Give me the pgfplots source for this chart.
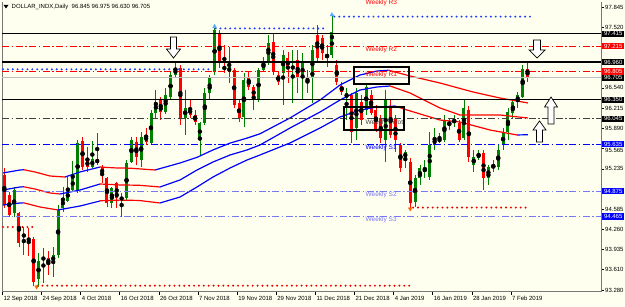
\documentclass[border=0pt]{standalone}
\usepackage{pgfplots}
\pgfplotsset{compat=1.18}
\usepackage{pgfplotstable}
\usepackage{fontspec}
\setmainfont{Liberation Sans}
\definecolor{bg}{RGB}{255,255,240}
\definecolor{cgreen}{RGB}{0,128,0}
\definecolor{cred}{RGB}{255,0,0}
\definecolor{mblue}{RGB}{0,0,255}
\definecolor{sblue}{RGB}{120,120,245}
\definecolor{pivotc}{RGB}{64,64,64}
\definecolor{dotblue}{RGB}{30,60,255}
\definecolor{dotred}{RGB}{230,0,0}
\definecolor{arrowblue}{RGB}{90,170,255}
\definecolor{framec}{RGB}{120,120,120}
\tikzset{wl/.style={anchor=north west, inner sep=0.5pt, font=\fontsize{6.5}{7}\selectfont},
  pb/.style={anchor=west, xshift=1pt, inner xsep=1.8pt, inner ysep=0.9pt, text height=4.4pt, text depth=0pt, text=white, font=\fontsize{6}{7}\selectfont}}

\pgfplotstableread{
i O H L C
2 94.522 94.942 94.458 94.893
4 94.135 94.296 93.845 94.184
7 93.458 93.877 93.329 93.748
8 93.764 93.958 93.393 93.813
10 93.732 93.974 93.490 93.845
11 93.845 94.651 93.796 94.571
12 94.603 94.942 94.538 94.764
13 94.716 95.103 94.700 94.893
14 94.893 95.361 94.861 95.103
15 94.893 95.700 94.845 95.651
18 95.264 95.684 95.248 95.393
22 94.684 94.942 94.603 94.926
24 94.748 94.845 94.458 94.764
25 94.764 95.377 94.732 95.329
26 95.345 95.748 95.329 95.700
28 95.377 95.829 95.264 95.748
30 95.651 96.184 95.619 96.135
31 96.135 96.506 96.055 96.313
33 96.151 96.539 96.119 96.426
34 96.393 96.797 96.345 96.748
35 96.748 96.958 96.716 96.861
37 96.055 96.506 95.780 96.216
40 95.700 95.990 95.458 95.974
41 95.974 96.539 95.942 96.458
42 96.458 96.748 96.345 96.700
43 96.797 97.510 96.748 97.474
46 96.797 97.200 96.619 96.877
49 96.071 96.781 95.909 96.668
52 96.345 96.861 96.313 96.829
53 96.829 97.039 96.797 96.958
54 96.958 97.393 96.910 97.264
57 96.781 97.151 96.264 97.071
59 96.861 97.151 96.297 96.877
61 96.700 97.103 96.345 96.958
63 96.700 97.232 96.297 97.151
66 97.039 97.232 96.877 97.071
67 97.071 97.700 97.022 97.442
70 96.377 96.539 96.022 96.458
72 95.893 96.539 95.700 96.458
74 96.184 96.619 96.103 96.555
78 95.700 96.506 95.345 96.345
82 95.409 95.538 95.248 95.506
84 94.700 95.135 94.619 95.087
85 95.087 95.297 94.974 95.248
86 95.184 95.377 95.087 95.248
87 95.103 95.829 95.055 95.619
88 95.619 95.893 95.538 95.732
89 95.684 95.813 95.651 95.716
90 95.700 96.103 95.668 96.022
91 95.942 96.055 95.861 95.990
92 95.990 96.103 95.909 96.022
94 95.732 96.345 95.700 96.216
96 95.297 95.538 95.184 95.426
97 95.409 95.538 95.377 95.490
99 95.087 95.297 94.974 95.264
100 95.248 95.377 95.184 95.297
101 95.264 95.619 95.216 95.538
102 95.619 95.893 95.538 95.813
103 95.829 96.216 95.700 96.151
104 96.135 96.345 96.055 96.313
105 96.313 96.474 96.216 96.426
106 96.393 96.910 96.377 96.845
}\bull

\pgfplotstableread{
i O H L C
0 95.135 95.248 94.603 94.651
1 94.813 94.861 94.458 94.490
3 94.522 94.538 93.974 94.038
5 94.103 94.280 93.829 94.087
6 94.103 94.135 93.350 93.409
9 93.796 93.909 93.522 93.700
16 95.684 95.748 95.216 95.264
17 95.377 95.587 95.184 95.264
19 95.393 95.813 95.297 95.329
20 95.264 95.297 95.006 95.135
21 95.087 95.103 94.619 94.684
23 95.006 95.022 94.603 94.764
27 95.668 95.748 95.297 95.426
29 95.780 95.893 95.619 95.668
32 96.345 96.393 96.022 96.151
36 96.861 96.910 95.942 96.055
38 96.216 96.345 96.055 96.103
39 96.103 96.184 95.942 95.990
44 97.426 97.474 96.861 96.958
45 96.877 97.232 96.781 96.845
47 96.829 96.861 96.216 96.264
48 96.297 96.345 95.990 96.055
50 96.700 96.797 96.506 96.555
51 96.555 96.587 96.184 96.377
55 97.281 97.426 96.748 96.797
56 96.748 96.797 96.587 96.635
58 97.022 97.119 96.619 96.861
60 96.990 97.151 96.458 96.700
62 96.716 96.829 96.458 96.619
64 97.393 97.555 96.958 97.022
65 97.345 97.393 96.990 97.103
68 96.910 96.990 96.587 96.635
69 96.571 96.635 96.426 96.474
71 96.426 96.458 95.651 95.829
73 96.313 96.426 95.942 96.022
75 96.426 96.506 96.103 96.135
76 96.184 96.264 95.829 95.861
77 96.055 96.103 95.651 95.732
79 96.232 96.345 95.732 95.780
80 96.055 96.103 95.506 95.700
81 95.619 95.651 95.184 95.248
83 95.345 95.409 94.610 94.684
93 95.974 96.022 95.668 95.700
95 96.184 96.248 95.345 95.426
98 95.490 95.538 94.893 95.087
107 96.845 96.975 96.630 96.705
}\bear

\begin{document}
\begin{tikzpicture}
\fill[bg] (0pt,0pt) rectangle (625pt,-307pt);
\useasboundingbox (0pt,0pt) rectangle (625pt,-307pt);
% title
\fill[black] (3.5pt,-5pt) -- (8.5pt,-5pt) -- (6pt,-8.5pt) -- cycle;
\node[anchor=west, inner sep=0pt, font=\fontsize{6}{7}\selectfont] at (11.5pt,-7pt) {DOLLAR\_INDX,Daily\ \ 96.845 96.975 96.630 96.705};
\begin{axis}[
  at={(2pt,-2pt)}, anchor=north west, scale only axis,
  width=599pt, height=290pt,
  xmin=-0.47, xmax=122.02, ymin=93.248, ymax=97.926,
  clip=false, axis line style={draw=none},
  tick align=outside, major tick length=3pt,
  xtick pos=left, ytick pos=right, yticklabel pos=right,
  xtick={-0.4,7.6,15.6,23.6,31.6,39.6,47.6,55.6,63.6,71.6,79.6,87.6,95.6,103.6},
  xticklabels={12 Sep 2018,24 Sep 2018,4 Oct 2018,16 Oct 2018,26 Oct 2018,7 Nov 2018,19 Nov 2018,29 Nov 2018,11 Dec 2018,21 Dec 2018,4 Jan 2019,16 Jan 2019,28 Jan 2019,7 Feb 2019},
  ytick={97.845,97.52,96.54,96.215,95.89,95.235,94.585,94.26,93.935,93.61,93.28},
  yticklabels={97.845,97.520,96.540,96.215,95.890,95.235,94.585,94.260,93.935,93.610,93.280},
  extra y ticks={95.565}, extra y tick labels={95.565},
  extra y tick style={yticklabel style={yshift=-2.2pt}},
  tick style={black, line width=0.5pt},
  tick label style={font=\fontsize{6}{7}\selectfont},
  xticklabel style={anchor=north west, inner sep=1pt},
  yticklabel style={anchor=west, inner sep=1pt},
]
% frame
\draw[framec, line width=1pt] (rel axis cs:0,1) -- (rel axis cs:0,0) -- (rel axis cs:1,0) -- (rel axis cs:1,1);

% candles: wicks
\addplot[only marks, mark=none, forget plot, error bars/.cd, y dir=both, y explicit, error mark=none,
  error bar style={line width=0.8pt, draw=cgreen}]
  table[x=i, y expr={(\thisrow{H}+\thisrow{L})/2}, y error expr={(\thisrow{H}-\thisrow{L})/2}] {\bull};
\addplot[only marks, mark=none, forget plot, error bars/.cd, y dir=both, y explicit, error mark=none,
  error bar style={line width=0.8pt, draw=cred}]
  table[x=i, y expr={(\thisrow{H}+\thisrow{L})/2}, y error expr={(\thisrow{H}-\thisrow{L})/2}] {\bear};
% candles: bodies
\addplot[only marks, mark=none, forget plot, error bars/.cd, y dir=both, y explicit, error mark=none,
  error bar style={line width=3pt, draw=cgreen}]
  table[x=i, y expr={(\thisrow{O}+\thisrow{C})/2}, y error expr={max(abs(\thisrow{C}-\thisrow{O})/2,0.008)}] {\bull};
\addplot[only marks, mark=none, forget plot, error bars/.cd, y dir=both, y explicit, error mark=none,
  error bar style={line width=3pt, draw=cred}]
  table[x=i, y expr={(\thisrow{O}+\thisrow{C})/2}, y error expr={max(abs(\thisrow{C}-\thisrow{O})/2,0.008)}] {\bear};

% moving average envelope (blue rising, red falling)
\pgfplotsset{ma/.style={line width=1.2pt, mark=none}}
% upper
\addplot[ma, mblue] coordinates {(-0.27,95.168) (3.21,95.216) (4.0,95.220)};
\addplot[ma, cred] coordinates {(4.0,95.220) (6.28,95.184) (9.35,95.119) (12.41,95.103)};
\addplot[ma, mblue] coordinates {(12.41,95.103) (15.48,95.184) (19.57,95.264)};
\addplot[ma, cred] coordinates {(19.57,95.264) (22.64,95.250) (25.71,95.245) (30.82,95.216)};
\addplot[ma, mblue] coordinates {(30.82,95.216) (35.93,95.329) (39.41,95.42) (42.68,95.54) (46.16,95.65) (49.63,95.73) (52.29,95.80) (58.42,96.055) (64.56,96.345) (68.65,96.587) (72.74,96.748) (76.22,96.813) (78.6,96.825)};
\addplot[ma, cred] coordinates {(78.6,96.825) (82.97,96.732) (89.11,96.619) (95.86,96.474) (101.37,96.377) (107.09,96.297)};
% middle
\addplot[ma, mblue] coordinates {(-0.27,94.893) (3.21,94.942) (4.0,94.945)};
\addplot[ma, cred] coordinates {(4.0,94.945) (6.28,94.909) (9.35,94.845) (11.39,94.829)};
\addplot[ma, mblue] coordinates {(11.39,94.829) (15.48,94.893) (19.57,94.990)};
\addplot[ma, cred] coordinates {(19.57,94.990) (23.66,94.975) (27.5,94.970) (31.84,94.942)};
\addplot[ma, mblue] coordinates {(31.84,94.942) (35.93,95.055) (39.41,95.216) (42.68,95.345) (46.16,95.458) (49.63,95.539) (52.29,95.619) (58.42,95.893) (64.56,96.151) (68.65,96.345) (72.74,96.506) (76.22,96.555) (78.88,96.571)};
\addplot[ma, cred] coordinates {(78.88,96.571) (82.97,96.458) (89.11,96.216) (93.20,96.103) (101.37,96.103) (107.09,96.055)};
% lower
\addplot[ma, mblue] coordinates {(-0.27,94.651) (3.21,94.684) (4.0,94.686)};
\addplot[ma, cred] coordinates {(4.0,94.686) (7.30,94.619) (10.98,94.571)};
\addplot[ma, mblue] coordinates {(10.98,94.571) (15.48,94.635) (19.57,94.716)};
\addplot[ma, cred] coordinates {(19.57,94.72) (23.66,94.73) (27.5,94.725) (31.84,94.684)};
\addplot[ma, mblue] coordinates {(31.84,94.684) (35.93,94.780) (39.41,94.942) (42.68,95.103) (46.16,95.248) (49.63,95.377) (52.29,95.458) (58.42,95.652) (64.56,95.893) (68.65,96.071) (72.74,96.184) (76.22,96.232) (79.9,96.248)};
\addplot[ma, cred] coordinates {(79.9,96.248) (82.35,96.184) (89.11,96.022) (93.20,95.990) (99.33,95.861) (104.85,95.781)};
\addplot[ma, mblue] coordinates {(104.85,95.781) (107.09,95.785)};

% horizontal levels
\pgfplotsset{dd/.style={line width=0.9pt, mark=none, dash pattern=on 7pt off 2.5pt on 1.5pt off 2.5pt}}
\addplot[dd, cred] coordinates {(-0.47,97.215) (122.02,97.215)};
\addplot[dd, cred] coordinates {(-0.47,96.805) (122.02,96.805)};
\addplot[dd, pivotc] coordinates {(-0.47,96.045) (122.02,96.045)};
\addplot[dd, mblue] coordinates {(-0.47,95.635) (122.02,95.635)};
\addplot[dd, sblue] coordinates {(-0.47,94.875) (122.02,94.875)};
\addplot[dd, sblue] coordinates {(-0.47,94.465) (122.02,94.465)};
\addplot[black!25, line width=0.8pt, mark=none] coordinates {(-0.47,96.705) (122.02,96.705)};
\addplot[black, line width=1.5pt, mark=none] coordinates {(-0.47,97.415) (122.02,97.415)};
\addplot[black, line width=1.5pt, mark=none] coordinates {(-0.47,96.960) (122.02,96.960)};
\addplot[black, line width=1.5pt, mark=none] coordinates {(-0.47,96.350) (122.02,96.350)};

% breakout dotted levels
\pgfplotsset{dotlev/.style={line width=2.2pt, line cap=round, mark=none, dash pattern=on 0pt off 4.89pt}}
\addplot[dotlev, dotblue] coordinates {(-0.27,96.84) (42.3,96.84)};
\addplot[dotlev, dotblue] coordinates {(43.2,97.50) (66.1,97.50)};
\addplot[dotlev, dotblue] coordinates {(67.5,97.69) (107.5,97.69)};
\addplot[dotlev, dotred] coordinates {(-0.27,94.296) (6.0,94.296)};
\addplot[dotlev, dotred] coordinates {(6.8,93.35) (83.0,93.35)};
\addplot[dotlev, dotred] coordinates {(83.6,94.61) (107.5,94.61)};
\addplot[only marks, mark=triangle*, mark size=2.2pt, arrowblue] coordinates {(43,97.53) (67,97.72)};
\addplot[only marks, mark=triangle*, mark size=2.2pt, mark options={rotate=180}, orange!80!red] coordinates {(6.6,93.33) (83,94.59)};

% weekly labels
\node[wl, text=cred] at (axis cs:73.76,97.975) {Weekly R3};
\node[wl, text=cred] at (axis cs:73.76,97.215) {Weekly R2};
\node[wl, text=cred] at (axis cs:73.76,96.805) {Weekly R1};
\node[wl, text=pivotc] at (axis cs:73.76,96.045) {Weekly Pivot};
\node[wl, text=mblue] at (axis cs:73.76,95.635) {Weekly S1};
\node[wl, text=sblue] at (axis cs:73.76,94.875) {Weekly S2};
\node[wl, text=sblue] at (axis cs:73.76,94.465) {Weekly S3};

% boxes
\draw[black, line width=1.6pt] (axis cs:71.51,96.877) rectangle (axis cs:82.76,96.603);
\draw[black, line width=1.6pt] (axis cs:69.47,96.232) rectangle (axis cs:81.74,95.861);

% hollow arrows
\draw[black, line width=0.7pt, fill=white] (axis cs:34.6,97.361) ++(-3pt,0pt) -- ++(6pt,0pt) -- ++(0pt,-12pt) -- ++(4pt,0pt) -- ++(-7pt,-9pt) -- ++(-7pt,9pt) -- ++(4pt,0pt) -- cycle;
\draw[black, line width=0.7pt, fill=white] (axis cs:108.94,97.313) ++(-3.5pt,0pt) -- ++(7pt,0pt) -- ++(0pt,-10pt) -- ++(4.5pt,0pt) -- ++(-8pt,-8pt) -- ++(-8pt,8pt) -- ++(4.5pt,0pt) -- cycle;
\draw[black, line width=0.7pt, fill=white] (axis cs:109.45,95.668) ++(-3pt,0pt) -- ++(6pt,0pt) -- ++(0pt,12pt) -- ++(3.5pt,0pt) -- ++(-6.5pt,9pt) -- ++(-6.5pt,-9pt) -- ++(3.5pt,0pt) -- cycle;
\draw[black, line width=0.7pt, fill=white] (axis cs:111.8,95.958) ++(-3pt,0pt) -- ++(6pt,0pt) -- ++(0pt,17pt) -- ++(3.5pt,0pt) -- ++(-6.5pt,10pt) -- ++(-6.5pt,-10pt) -- ++(3.5pt,0pt) -- cycle;

% coordinates for price boxes
\coordinate (p1) at (axis cs:122.02,97.415);
\coordinate (p2) at (axis cs:122.02,97.215);
\coordinate (p3) at (axis cs:122.02,96.960);
\coordinate (p4) at (axis cs:122.02,96.805);
\coordinate (p5) at (axis cs:122.02,96.705);
\coordinate (p6) at (axis cs:122.02,96.350);
\coordinate (p7) at (axis cs:122.02,96.045);
\coordinate (p8) at (axis cs:122.02,95.635);
\coordinate (p9) at (axis cs:122.02,94.875);
\coordinate (p10) at (axis cs:122.02,94.465);
\end{axis}
\node[pb, fill=black] at (p1) {97.415};
\node[pb, fill=cred] at (p2) {97.215};
\node[pb, fill=black] at (p3) {96.960};
\node[pb, fill=cred] at (p4) {96.805};
\node[pb, fill=black] at (p5) {96.705};
\node[pb, fill=black] at (p6) {96.350};
\node[pb, fill=black] at (p7) {96.045};
\node[pb, fill=mblue] at (p8) {95.635};
\node[pb, fill=mblue] at (p9) {94.875};
\node[pb, fill=mblue] at (p10) {94.465};
\end{tikzpicture}
\end{document}
